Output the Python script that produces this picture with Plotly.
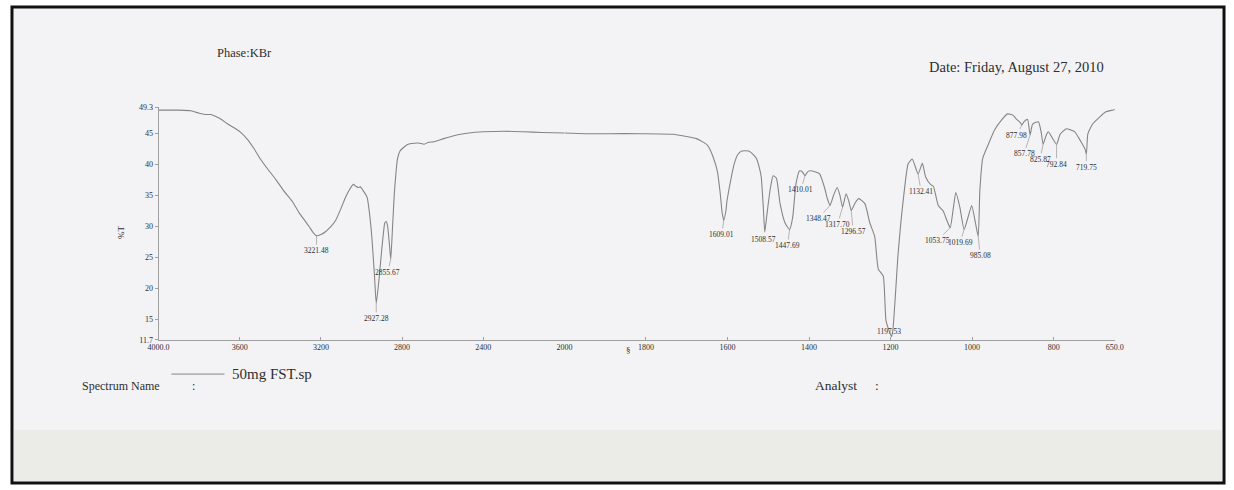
import plotly.graph_objects as go

# FTIR spectrum, 50mg FST (KBr pellet)
wavenumber = [
    4000, 3960, 3900, 3840, 3800, 3770, 3743, 3720, 3690, 3661, 3630, 3598,
    3560, 3530, 3500, 3467, 3420, 3384, 3340, 3307, 3280, 3258, 3240, 3221.48,
    3200, 3176, 3150, 3127, 3100, 3079, 3060, 3040, 3028, 3016, 3005, 2992, 2980,
    2972, 2960, 2948, 2935, 2927.28, 2915, 2900, 2890, 2885, 2878, 2871, 2862,
    2855.67, 2846, 2837, 2822, 2810, 2798, 2775, 2754, 2720, 2691, 2670, 2643,
    2594, 2540, 2512, 2450, 2400, 2300, 2200, 2110, 2000,
    1950, 1893, 1813, 1734, 1676, 1650, 1644, 1635, 1625, 1618, 1613, 1609.01,
    1604, 1601, 1592, 1584, 1575, 1565, 1548, 1535, 1529, 1520, 1517, 1512,
    1508.57, 1504, 1499, 1494, 1488, 1480, 1471, 1459, 1447.69, 1440, 1432, 1423,
    1416, 1410.01, 1404, 1398, 1384, 1374, 1362, 1355, 1348.47, 1340, 1331, 1324,
    1317.70, 1309, 1302, 1296.57, 1287, 1278, 1263, 1251, 1239, 1230, 1218, 1211,
    1197.53, 1194, 1188, 1182, 1175, 1169, 1157, 1147, 1132.41, 1122, 1114, 1102,
    1095, 1083, 1071, 1062, 1053.75, 1046, 1040, 1030, 1019.69, 1010, 1001, 993,
    985.08, 981, 974, 962, 945, 928, 913, 900, 892, 882, 877.98, 872, 864, 857.78,
    852, 845, 837, 830, 825.87, 818, 813, 805, 792.84, 784, 769, 758, 748, 733,
    723, 719.75, 716, 704, 687, 673, 656, 650,
]
transmittance = [
    48.8, 48.8, 48.8, 48.7, 48.3, 48.1, 48.1, 47.8, 47.3, 46.6, 46.0, 45.3,
    44.0, 42.6, 41.0, 39.5, 37.5, 35.8, 34.0, 32.2, 31.0, 30.0, 29.1, 28.5,
    28.7, 29.2, 30.0, 31.0, 33.0, 34.7, 35.9, 36.8, 36.5, 36.3, 36.4, 35.8, 35.2,
    34.7, 32.0, 27.9, 21.5, 17.6, 21.0, 26.3, 29.5, 30.6, 30.8, 30.0, 27.0,
    24.7, 30.5, 35.8, 41.0, 42.2, 42.6, 43.2, 43.4, 43.5, 43.3, 43.6, 43.7,
    44.2, 44.7, 44.9, 45.2, 45.3, 45.4, 45.3, 45.2, 45.1,
    45.0, 45.0, 45.0, 44.9, 44.2, 43.2, 42.6, 41.2, 39.0, 35.5, 32.2, 31.0,
    32.5, 34.2, 37.5, 40.0, 41.6, 42.2, 42.2, 41.5, 41.0, 39.0, 37.9, 33.0,
    29.1, 31.5, 34.2, 36.5, 38.2, 37.8, 33.7, 30.6, 29.5, 31.5, 36.9, 39.0,
    38.8, 38.2, 38.8, 39.0, 38.8, 38.5, 36.3, 34.5, 33.4, 35.0, 36.3, 35.0,
    33.1, 35.3, 34.0, 32.6, 33.8, 34.5, 33.7, 30.6, 28.4, 23.1, 22.0, 14.7,
    12.2, 13.5, 19.0, 25.2, 30.5, 34.2, 40.1, 40.9, 38.5, 40.2, 38.0, 36.8,
    36.5, 33.4, 32.5, 31.0, 29.8, 33.0, 35.5, 33.1, 29.5, 31.5, 33.4, 31.0,
    28.4, 35.8, 41.0, 43.0, 45.6, 47.2, 48.2, 48.0, 47.4, 46.8, 46.4, 47.0, 47.3, 44.8,
    46.5, 46.8, 46.9, 45.0, 43.3, 44.8, 45.3, 44.5, 43.3, 44.9, 45.8, 45.6, 45.3, 43.7,
    42.5, 41.7, 45.0, 46.6, 47.7, 48.5, 48.8, 48.9,
]

# labelled absorption bands
peak_wavenumbers = [3221.48, 2927.28, 2855.67, 1609.01, 1508.57, 1447.69, 1410.01,
                    1348.47, 1317.70, 1296.57, 1197.53, 1132.41, 1053.75, 1019.69,
                    985.08, 877.98, 857.78, 825.87, 792.84, 719.75]
# label offsets from the band minimum, in pixels (dx, dy)
label_dx = [0, 0, -3, -2, -1, -2, -4, -12, -5, 2, -3, 3, -13, -4, 2, -5, -6, -3, 0, 0]
label_dy = [15, 15, 13, 14, 7, 16, 14, 13, 17, 21, -5, 18, 13, 13, 19, 10, 19, 15, 20, 13]

left_ticks = [4000, 3600, 3200, 2800, 2400]
left_ticktext = ["4000.0", "3600", "3200", "2800", "2400"]
right_ticks = [2000, 1800, 1600, 1400, 1200, 1000, 800, 650]
right_ticktext = ["2000", "1800", "1600", "1400", "1200", "1000", "800", "650.0"]
y_ticks = [11.7, 15, 20, 25, 30, 35, 40, 45, 49.3]
y_ticktext = ["11.7", "15", "20", "25", "30", "35", "40", "45", "49.3"]

W, H = 1234, 490
SERIF = "Liberation Serif, Times New Roman, serif"
INK = "#2e2e2e"
CURVE = "#858585"
AXIS = "#a0a0a0"


def px(x):
    return x / W


def py(y):
    return 1 - y / H


# split at the 2000 cm-1 scale change
hi = [(w, t) for w, t in zip(wavenumber, transmittance) if w >= 2000]
lo = [(w, t) for w, t in zip(wavenumber, transmittance) if w <= 2000]

fig = go.Figure()
for pts, xa in ((hi, "x"), (lo, "x2")):
    fig.add_trace(go.Scatter(x=[p[0] for p in pts], y=[p[1] for p in pts],
                             mode="lines", xaxis=xa, yaxis="y", hoverinfo="skip",
                             line=dict(color=CURVE, width=1.1, shape="spline",
                                       smoothing=0.5)))

x_split = 562.5
dom_y = [py(342), py(105)]
tickfont = dict(family=SERIF, size=8, color=INK)
common = dict(ticks="inside", ticklen=3, tickcolor=AXIS, showline=True,
              linecolor=AXIS, linewidth=1, showgrid=False, zeroline=False,
              tickfont=tickfont, anchor="y")

fig.update_layout(
    width=W, height=H,
    margin=dict(l=0, r=0, t=0, b=0),
    paper_bgcolor="white",
    plot_bgcolor="rgba(0,0,0,0)",
    showlegend=False,
    xaxis=dict(domain=[px(150), px(x_split)], range=[4000, 2000],
               tickvals=left_ticks, ticktext=left_ticktext, **common),
    xaxis2=dict(domain=[px(x_split), px(1122)], range=[2000, 650],
                tickvals=right_ticks, ticktext=right_ticktext, **common),
    yaxis=dict(domain=dom_y, range=[11.7, 49.3], tickvals=y_ticks,
               ticktext=y_ticktext, ticks="outside", ticklen=3, tickcolor=AXIS,
               showline=True, linecolor=AXIS, linewidth=1, showgrid=False,
               zeroline=False, tickfont=tickfont),
)

# paper sheet and black frame
fig.add_shape(type="rect", xref="paper", yref="paper",
              x0=px(1), x1=px(1233), y0=py(488), y1=py(3),
              fillcolor="#f3f3f5", line=dict(color="#111111", width=3), layer="below")
fig.add_shape(type="rect", xref="paper", yref="paper",
              x0=px(3), x1=px(1231), y0=py(486), y1=py(434),
              fillcolor="#ebebe7", line=dict(width=0), layer="below")

# band labels
for w, dx, dy in zip(peak_wavenumbers, label_dx, label_dy):
    t = transmittance[wavenumber.index(w)]
    fig.add_annotation(x=w, y=t, xref="x" if w >= 2000 else "x2", yref="y",
                       text=f"{w:.2f}", showarrow=True, arrowhead=0,
                       arrowwidth=0.6, arrowcolor="#8a8a8a", ax=dx, ay=dy,
                       font=dict(family=SERIF, size=7.5, color=INK))

# y-axis title
fig.add_annotation(x=px(104), y=py(233), xref="paper", yref="paper", text="%T",
                   textangle=-90, showarrow=False,
                   font=dict(family=SERIF, size=9, color=INK))

# header and footer text
texts = [
    ("Phase:KBr", 237, 50, "center", 12.5),
    ("Date: Friday, August 27, 2010", 1022, 64, "center", 14.5),
    ("Spectrum Name", 70, 389, "left", 12),
    (":", 182, 389, "left", 12),
    ("Analyst", 815, 389, "left", 13.5),
    (":", 876, 389, "left", 13.5),
    ("50mg FST.sp", 223, 377, "left", 15),
    ("§", 628, 352, "center", 9),
]
for s, x, y, anchor, size in texts:
    fig.add_annotation(x=px(x), y=py(y), xref="paper", yref="paper", text=s,
                       showarrow=False, xanchor=anchor, yanchor="middle",
                       font=dict(family=SERIF, size=size, color=INK))

# spectrum-name key line
fig.add_shape(type="line", xref="paper", yref="paper",
              x0=px(163), x1=px(217), y0=py(377), y1=py(377),
              line=dict(color=CURVE, width=1))

fig.write_html("out.html")
